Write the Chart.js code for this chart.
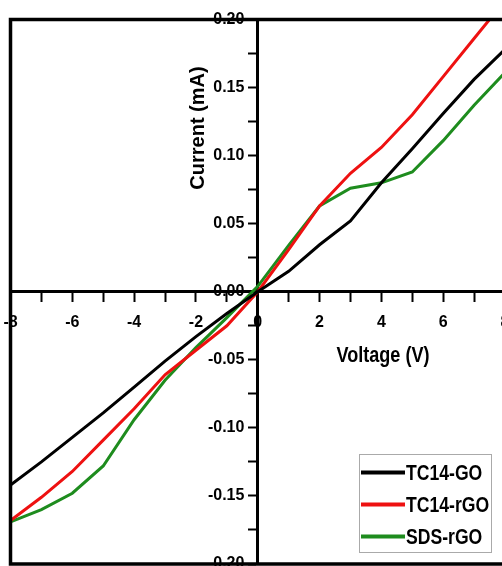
<!DOCTYPE html>
<html lang="en">
<head>
    <meta charset="UTF-8">
    <title>I-V Curves</title>
    <script src="https://cdn.jsdelivr.net/npm/chart.js"></script>
    <style>
        html, body {
            margin: 0;
            padding: 0;
            background: #fff;
            overflow: hidden;
        }
        .wrap {
            width: 502px;
            height: 566px;
            overflow: hidden;
        }
        canvas {
            display: block;
        }
    </style>
</head>
<body>
    <div class="wrap">
        <canvas id="ivChart" width="512" height="570"></canvas>
    </div>

    <script>
        // values (current in mA)
        const voltage = [-8, -7, -6, -5, -4, -3, -2, -1, 0, 1, 2, 3, 4, 5, 6, 7, 8];
        const tc14GO = [-0.142, -0.125, -0.107, -0.089, -0.070, -0.051, -0.033, -0.016, 0, 0.015, 0.0345, 0.052, 0.080, 0.105, 0.131, 0.156, 0.178];
        const tc14rGO = [-0.168, -0.151, -0.132, -0.109, -0.086, -0.061, -0.043, -0.025, 0, 0.031, 0.063, 0.087, 0.106, 0.130, 0.158, 0.186, 0.214];
        const sdsrGO = [-0.169, -0.160, -0.148, -0.128, -0.094, -0.065, -0.041, -0.019, 0.004, 0.034, 0.063, 0.076, 0.080, 0.088, 0.111, 0.137, 0.161];
        const seriesNames = ['TC14-GO', 'TC14-rGO', 'SDS-rGO'];
        const seriesColors = ['#000000', '#ee1111', '#1e8c1e'];

        const sans = "'Liberation Sans', Arial, sans-serif";

        function toPoints(ys) {
            return voltage.map((v, i) => ({ x: v, y: ys[i] }));
        }

        // squeezed text, to look like the narrow bold face of the original
        function narrowText(ctx, text, x, y, squeeze) {
            ctx.save();
            ctx.translate(x, y);
            ctx.scale(squeeze, 1);
            ctx.fillText(text, 0, 0);
            ctx.restore();
        }

        // center axes must not push the plot area in
        function noOverhang(scale) {
            scale.paddingLeft = 0;
            scale.paddingRight = 0;
            scale.paddingTop = 0;
            scale.paddingBottom = 0;
        }

        // frame, axis titles and legend box
        const extras = {
            id: 'extras',
            afterDraw(chart) {
                const ctx = chart.ctx;
                const area = chart.chartArea;
                ctx.save();

                ctx.strokeStyle = '#000';
                ctx.lineWidth = 3.5;
                ctx.strokeRect(area.left, area.top, area.right - area.left, area.bottom - area.top);

                ctx.fillStyle = '#000';
                ctx.textAlign = 'center';
                ctx.textBaseline = 'middle';
                ctx.font = 'bold 22px ' + sans;
                narrowText(ctx, 'Voltage (V)', 383, 356, 0.82);

                ctx.save();
                ctx.translate(198, 128);
                ctx.rotate(-Math.PI / 2);
                ctx.font = 'bold 20px ' + sans;
                ctx.fillText('Current (mA)', 0, 0);
                ctx.restore();

                // legend
                ctx.fillStyle = '#fff';
                ctx.fillRect(359.5, 454, 132, 98);
                ctx.strokeStyle = '#aaa';
                ctx.lineWidth = 1;
                ctx.strokeRect(359.5, 454.5, 132, 98);
                ctx.font = 'bold 22px ' + sans;
                ctx.textAlign = 'left';
                chart.data.datasets.forEach((ds, i) => {
                    const y = 472.5 + i * 32;
                    ctx.strokeStyle = ds.borderColor;
                    ctx.lineWidth = 4;
                    ctx.beginPath();
                    ctx.moveTo(361, y);
                    ctx.lineTo(405, y);
                    ctx.stroke();
                    ctx.fillStyle = '#000';
                    narrowText(ctx, ds.label, 406, y + 1, 0.8);
                });
                ctx.restore();
            }
        };

        const ctx = document.getElementById('ivChart').getContext('2d');
        new Chart(ctx, {
            type: 'line',
            data: {
                datasets: [tc14GO, tc14rGO, sdsrGO].map((ys, i) => ({
                    label: seriesNames[i],
                    data: toPoints(ys),
                    borderColor: seriesColors[i],
                    backgroundColor: seriesColors[i],
                    borderWidth: 3,
                    pointRadius: 0,
                    tension: 0
                }))
            },
            options: {
                responsive: false,
                animation: false,
                layout: {
                    padding: { left: 10.5, top: 19.5, right: 7, bottom: 6 }
                },
                plugins: {
                    legend: { display: false },
                    tooltip: { enabled: false }
                },
                scales: {
                    x: {
                        type: 'linear',
                        position: { y: 0 },
                        min: -8,
                        max: 8,
                        afterFit: noOverhang,
                        border: { display: true, color: '#000', width: 3 },
                        grid: { drawOnChartArea: false, tickLength: 9, tickWidth: 2, tickColor: '#000' },
                        ticks: {
                            stepSize: 1,
                            autoSkip: false,
                            maxRotation: 0,
                            padding: 12,
                            color: '#000',
                            font: { family: sans, size: 16, weight: 'bold' },
                            callback: v => (v % 2 === 0 ? String(v) : '')
                        }
                    },
                    y: {
                        type: 'linear',
                        position: { x: 0 },
                        min: -0.2,
                        max: 0.2,
                        afterFit: noOverhang,
                        border: { display: true, color: '#000', width: 3 },
                        grid: { drawOnChartArea: false, tickLength: 8, tickWidth: 2, tickColor: '#000' },
                        ticks: {
                            stepSize: 0.025,
                            autoSkip: false,
                            color: '#000',
                            font: { family: sans, size: 16, weight: 'bold' },
                            // trailing spaces keep the labels clear of the tick marks
                            callback: v => {
                                const k = v / 0.05;
                                return Math.abs(k - Math.round(k)) < 1e-6 ? v.toFixed(2) + '   ' : '';
                            }
                        }
                    }
                }
            },
            plugins: [extras]
        });
    </script>
</body>
</html>
